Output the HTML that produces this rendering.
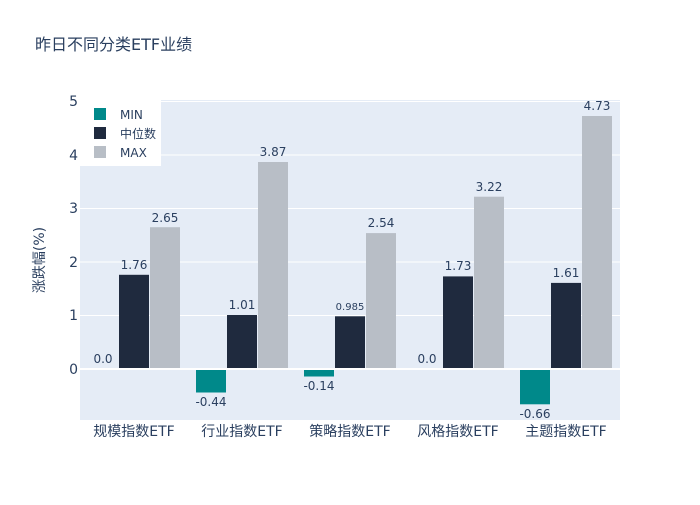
<!DOCTYPE html>
<html><head><meta charset="utf-8"><style>
body{margin:0;background:#fff}
text{font-family:"DejaVu Sans","Noto Sans CJK SC",sans-serif;fill:#2a3f5f}
</style></head><body>
<svg width="700" height="500" xmlns="http://www.w3.org/2000/svg">
<rect width="700" height="500" fill="#fff"/>
<text x="35" y="50" font-size="16">昨日不同分类ETF业绩</text>
<rect x="80" y="100" width="540" height="320" fill="#e5ecf6"/>
<g stroke="#fff" stroke-width="1">
<line x1="80" x2="620" y1="315.5" y2="315.5"/>
<line x1="80" x2="620" y1="262" y2="262"/>
<line x1="80" x2="620" y1="208.5" y2="208.5"/>
<line x1="80" x2="620" y1="155" y2="155"/>
<line x1="80" x2="620" y1="101.5" y2="101.5"/>
</g>
<g font-size="14" text-anchor="end">
<text x="78" y="374">0</text><text x="78" y="320">1</text><text x="78" y="267">2</text>
<text x="78" y="213">3</text><text x="78" y="160">4</text><text x="78" y="106">5</text>
</g>
<text transform="translate(44,260) rotate(-90)" font-size="14" text-anchor="middle">涨跌幅(%)</text>
<g>
<rect x="119" y="274.8" width="30" height="94.2" fill="#1f2a3e"/>
<rect x="150" y="227.2" width="30" height="141.8" fill="#b8bec6"/>
<rect x="196" y="369" width="30" height="23.5" fill="#00898a"/>
<rect x="227" y="315" width="30" height="54" fill="#1f2a3e"/>
<rect x="258" y="162" width="30" height="207" fill="#b8bec6"/>
<rect x="304" y="369" width="30" height="7.5" fill="#00898a"/>
<rect x="335" y="316.3" width="30" height="52.7" fill="#1f2a3e"/>
<rect x="366" y="233.1" width="30" height="135.9" fill="#b8bec6"/>
<rect x="443" y="276.4" width="30" height="92.6" fill="#1f2a3e"/>
<rect x="474" y="196.7" width="30" height="172.3" fill="#b8bec6"/>
<rect x="520" y="369" width="30" height="35.3" fill="#00898a"/>
<rect x="551" y="282.9" width="30" height="86.1" fill="#1f2a3e"/>
<rect x="582" y="116" width="30" height="253" fill="#b8bec6"/>
</g>
<line x1="80" x2="620" y1="369" y2="369" stroke="#fff" stroke-width="2"/>
<g font-size="12" text-anchor="middle">
<text x="103" y="363">0.0</text><text x="134" y="269">1.76</text><text x="165" y="222">2.65</text>
<text x="211" y="406">-0.44</text><text x="242" y="309">1.01</text><text x="273" y="156">3.87</text>
<text x="319" y="390">-0.14</text><text x="350" y="310" font-size="10">0.985</text><text x="381" y="227">2.54</text>
<text x="427" y="363">0.0</text><text x="458" y="270">1.73</text><text x="489" y="191">3.22</text>
<text x="535" y="418">-0.66</text><text x="566" y="277">1.61</text><text x="597" y="110">4.73</text>
</g>
<g font-size="14" text-anchor="middle">
<text x="134" y="436">规模指数ETF</text><text x="242" y="436">行业指数ETF</text>
<text x="350" y="436">策略指数ETF</text><text x="458" y="436">风格指数ETF</text>
<text x="566" y="436">主题指数ETF</text>
</g>
<rect x="80" y="100" width="81" height="66" fill="#fff"/>
<rect x="94" y="108" width="12" height="12" fill="#00898a"/>
<rect x="94" y="127" width="12" height="12" fill="#1f2a3e"/>
<rect x="94" y="146" width="12" height="12" fill="#b8bec6"/>
<g font-size="12">
<text x="120" y="119">MIN</text><text x="120" y="138">中位数</text><text x="120" y="157">MAX</text>
</g>
</svg>
</body></html>
